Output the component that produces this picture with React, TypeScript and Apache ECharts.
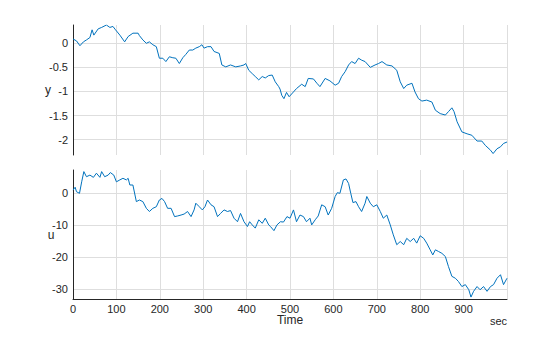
import React, { useEffect, useRef } from "react";
import * as echarts from "echarts";

const yTime = [0, 8, 16, 24, 31, 39, 44, 48, 58, 66, 77, 85, 92, 98, 108, 119, 127, 138, 150, 153, 161, 169, 176, 184, 192, 199, 207, 214, 222, 230, 237, 245, 253, 260, 268, 276, 283, 291, 297, 302, 310, 318, 325, 337, 343, 352, 363, 375, 386, 394, 398, 405, 413, 420, 428, 436, 443, 451, 459, 466, 474, 477, 481, 486, 492, 498, 508, 515, 527, 535, 542, 554, 562, 569, 581, 592, 604, 612, 619, 627, 635, 642, 650, 658, 665, 673, 685, 696, 704, 712, 723, 735, 746, 754, 762, 769, 781, 788, 796, 804, 815, 827, 835, 846, 858, 865, 873, 878, 885, 896, 908, 919, 931, 942, 950, 962, 968, 977, 985, 992, 1000];
const yValues = [0.09, 0.05, -0.05, 0.03, 0.07, 0.12, 0.28, 0.17, 0.3, 0.33, 0.38, 0.33, 0.35, 0.28, 0.17, 0.03, 0.14, 0.21, 0.21, 0.16, 0.07, 0.0, 0.03, -0.03, -0.07, -0.31, -0.31, -0.38, -0.28, -0.3, -0.31, -0.42, -0.3, -0.23, -0.14, -0.14, -0.1, -0.07, -0.03, -0.1, -0.07, -0.07, -0.17, -0.21, -0.45, -0.49, -0.45, -0.49, -0.47, -0.45, -0.42, -0.56, -0.63, -0.69, -0.76, -0.69, -0.72, -0.67, -0.66, -0.8, -0.9, -0.95, -1.08, -1.15, -1.02, -1.11, -1.01, -0.94, -0.85, -0.9, -0.73, -0.74, -0.83, -0.9, -0.73, -0.78, -0.87, -0.83, -0.69, -0.59, -0.45, -0.38, -0.42, -0.31, -0.35, -0.38, -0.5, -0.45, -0.42, -0.38, -0.45, -0.47, -0.56, -0.8, -0.94, -0.87, -0.83, -1.01, -1.15, -1.2, -1.18, -1.22, -1.39, -1.46, -1.49, -1.42, -1.34, -1.42, -1.63, -1.84, -1.88, -1.91, -2.03, -2.03, -2.12, -2.22, -2.29, -2.19, -2.15, -2.08, -2.05];

const uTime = [0, 5, 8, 15, 20, 25, 31, 39, 47, 54, 62, 66, 73, 81, 86, 94, 100, 108, 115, 123, 127, 131, 138, 146, 153, 161, 169, 176, 184, 192, 199, 205, 211, 218, 226, 234, 241, 249, 256, 264, 272, 279, 283, 291, 298, 304, 310, 318, 325, 333, 340, 348, 356, 363, 371, 379, 386, 394, 402, 407, 413, 420, 428, 436, 443, 451, 455, 463, 470, 478, 485, 493, 500, 508, 515, 523, 531, 538, 546, 550, 558, 565, 573, 581, 588, 596, 604, 609, 615, 623, 629, 635, 640, 645, 652, 658, 665, 673, 677, 685, 692, 700, 708, 715, 723, 731, 738, 746, 754, 762, 769, 777, 785, 792, 800, 808, 815, 823, 829, 835, 842, 850, 858, 865, 873, 881, 888, 896, 904, 912, 917, 923, 931, 938, 946, 954, 962, 969, 977, 985, 992, 1000];
const uValues = [1.0, 1.9, 0.5, 0, 3.6, 6.8, 5.2, 5.7, 5.0, 6.3, 5.0, 6.8, 5.2, 5.7, 6.5, 5.7, 3.6, 4.2, 4.7, 4.2, 4.7, 2.6, 2.6, -2.6, -2.1, -2.6, -4.7, -5.7, -4.7, -4.2, -2.1, -1.6, -2.6, -4.7, -4.7, -7.3, -7.1, -6.8, -6.5, -5.7, -7.3, -5.2, -3.1, -4.2, -5.2, -4.2, -2.1, -3.6, -4.2, -7.3, -6.3, -5.2, -5.7, -5.4, -7.8, -8.9, -6.3, -8.9, -10.4, -8.9, -9.9, -10.9, -8.3, -9.4, -7.8, -9.9, -10.4, -11.7, -9.9, -8.9, -9.0, -7.3, -7.8, -5.2, -8.9, -6.8, -7.3, -8.9, -7.8, -9.9, -8.3, -7.1, -3.6, -4.2, -6.8, -4.7, -1.0, 0.2, 0, 4.2, 4.5, 3.1, 0, -2.9, -2.6, -4.2, -5.7, -3.1, -1.0, -3.1, -4.2, -3.6, -5.7, -7.8, -6.8, -9.9, -13.0, -16.1, -15.1, -16.1, -14.1, -15.1, -14.1, -15.6, -13.3, -14.1, -15.6, -17.7, -19.3, -17.7, -18.2, -18.8, -19.8, -22.9, -26.0, -26.6, -27.6, -29.2, -28.6, -30.2, -32.5, -30.7, -29.2, -30.2, -29.2, -30.7, -29.2, -28.6, -26.6, -25.5, -28.6, -26.6];

const yTicks = [0, -0.5, -1, -1.5, -2];
const uTicks = [0, -10, -20, -30];
const timeTicks = [0, 100, 200, 300, 400, 500, 600, 700, 800, 900];

const FONT = "'Liberation Sans', Arial, Helvetica, sans-serif";
const TXT = "#262626";
const GRID = "#dedede";
const LINE = "#0072BD";

export default function App() {
  const ref = useRef<HTMLDivElement>(null);
  useEffect(() => {
    if (!ref.current) return;
    const chart = echarts.init(ref.current, null, { renderer: "svg" });
    const xCommon = (showLabels: boolean, gridIndex: number) => ({
      type: "value",
      gridIndex,
      min: 0,
      max: 1000,
      interval: 100,
      axisLine: { show: showLabels, onZero: false, lineStyle: { color: TXT, width: 1 } },
      axisTick: { show: false },
      splitLine: { show: true, lineStyle: { color: GRID, width: 1 } },
      axisLabel: {
        show: showLabels,
        color: TXT,
        fontFamily: FONT,
        fontSize: 11,
        margin: 4,
        formatter: (v: number) => (timeTicks.includes(v) ? String(v) : ""),
      },
    });
    const yCommon = (min: number, max: number, ticks: number[], gridIndex: number) => ({
      type: "value",
      gridIndex,
      min,
      max,
      axisLine: { show: true, onZero: false, lineStyle: { color: TXT, width: 1 } },
      axisTick: { show: false, customValues: ticks },
      splitLine: { show: true, lineStyle: { color: GRID, width: 1 } },
      axisLabel: {
        color: TXT,
        fontFamily: FONT,
        fontSize: 11,
        margin: 5,
        customValues: ticks,
        formatter: (v: number) => String(v),
      },
    });
    chart.setOption({
      animation: false,
      backgroundColor: "#ffffff",
      grid: [
        { left: 73, top: 25, width: 434, height: 130 },
        { left: 73, top: 170, width: 434, height: 129 },
      ],
      xAxis: [xCommon(false, 0), xCommon(true, 1)],
      yAxis: [yCommon(-2.32, 0.38, yTicks, 0), yCommon(-33.1, 7.3, uTicks, 1)],
      series: [
        {
          type: "line",
          xAxisIndex: 0,
          yAxisIndex: 0,
          data: yTime.map((t, i) => [t, yValues[i]]),
          showSymbol: false,
          lineStyle: { color: LINE, width: 1 },
          clip: true,
        },
        {
          type: "line",
          xAxisIndex: 1,
          yAxisIndex: 1,
          data: uTime.map((t, i) => [t, uValues[i]]),
          showSymbol: false,
          lineStyle: { color: LINE, width: 1 },
          clip: true,
        },
      ],
      graphic: [
        { type: "text", x: 48, y: 90, style: { text: "y", font: `12px ${FONT}`, fill: TXT, textAlign: "center", textVerticalAlign: "middle" } },
        { type: "text", x: 51, y: 235, style: { text: "u", font: `12px ${FONT}`, fill: TXT, textAlign: "center", textVerticalAlign: "middle" } },
        { type: "text", x: 290, y: 320, style: { text: "Time", font: `12px ${FONT}`, fill: TXT, textAlign: "center", textVerticalAlign: "middle" } },
        { type: "text", x: 507, y: 321, style: { text: "sec", font: `11px ${FONT}`, fill: TXT, textAlign: "right", textVerticalAlign: "middle" } },
      ],
    });
    return () => chart.dispose();
  }, []);
  return <div ref={ref} style={{ position: "absolute", left: 0, top: 0, width: 560, height: 337 }} />;
}
